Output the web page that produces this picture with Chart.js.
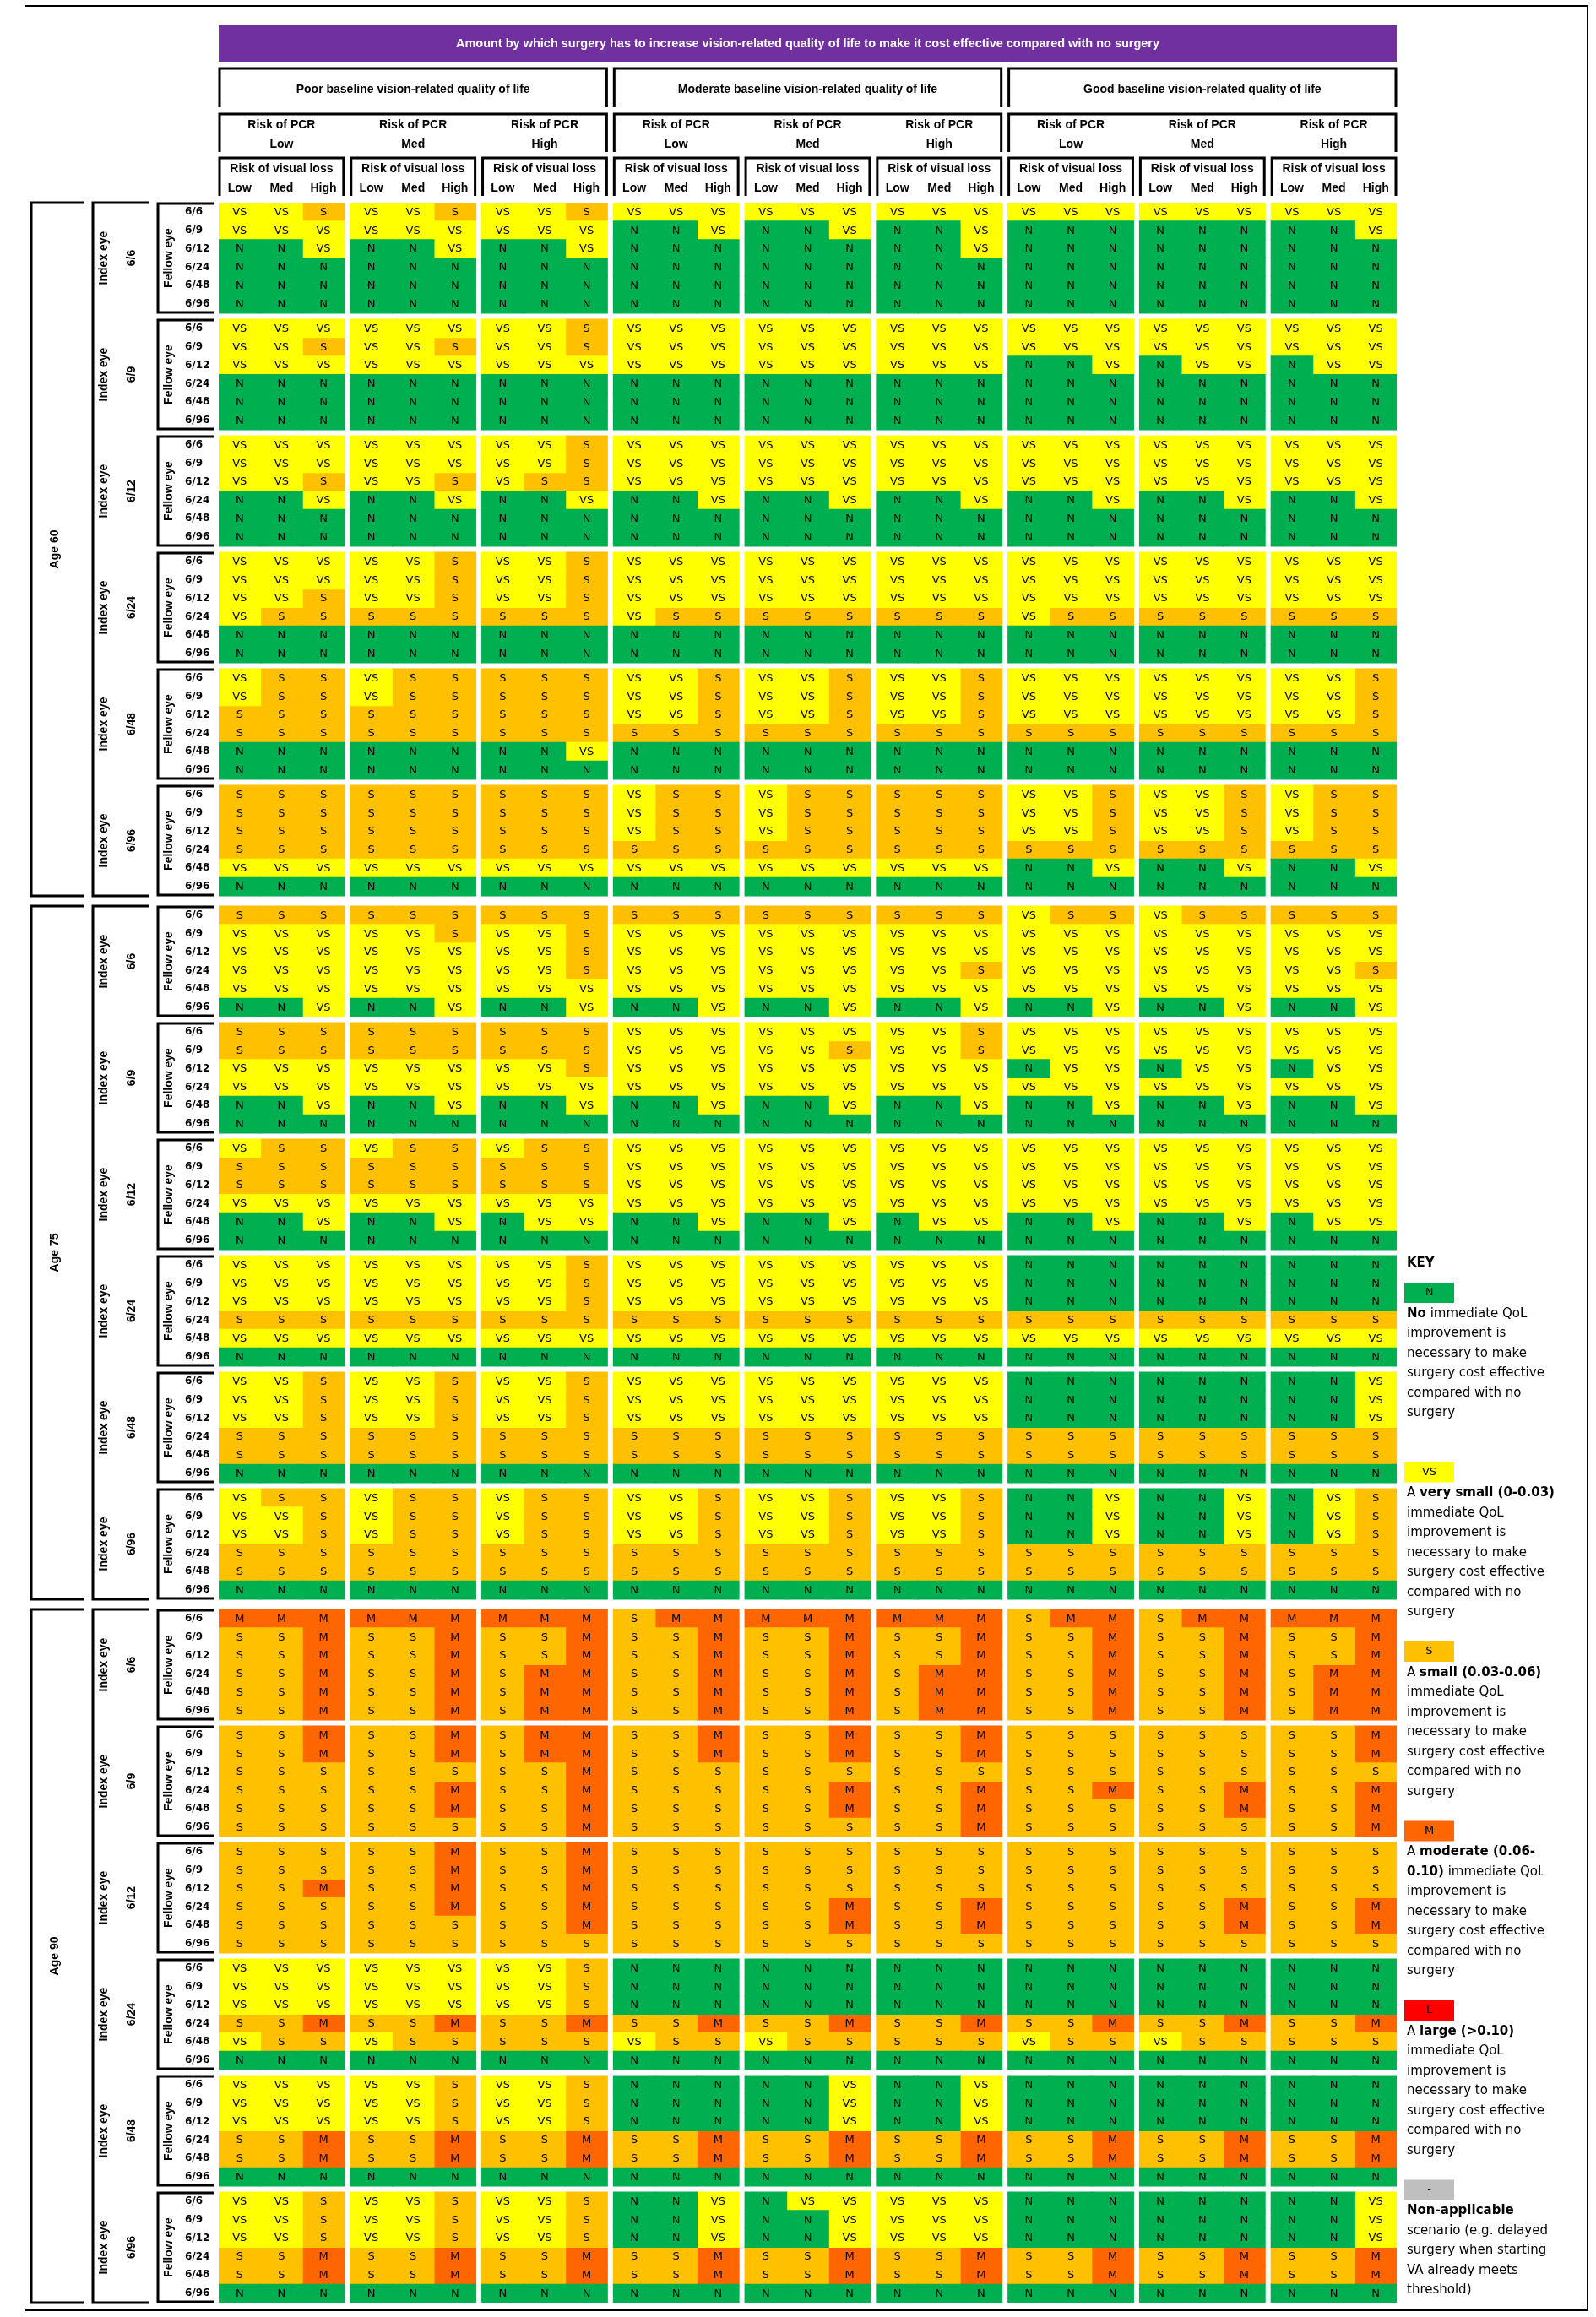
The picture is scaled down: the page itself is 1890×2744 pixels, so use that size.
<!DOCTYPE html>
<html>
<head>
<meta charset="utf-8">
<title>QoL gain needed for surgery to be cost effective</title>
<script src="https://cdn.jsdelivr.net/npm/chart.js@4.4.1/dist/chart.umd.min.js"></script>
<style>
html, body { margin: 0; padding: 0; background: #fff; }
#chart { display: block; }
</style>
</head>
<body>
<canvas id="chart" width="1890" height="2744"></canvas>
<script>
// Labels
const ageGroups = ['Age 60', 'Age 75', 'Age 90'];
const indexEye = ['6/6', '6/9', '6/12', '6/24', '6/48', '6/96'];
const fellowEye = ['6/6', '6/9', '6/12', '6/24', '6/48', '6/96'];
const baselines = ['Poor', 'Moderate', 'Good'];
const pcrRisk = ['Low', 'Med', 'High'];
const visualLoss = ['Low', 'Med', 'High'];

// Cell codes: N = none, V = very small, S = small, M = moderate
// one string per fellow-eye row; 9 chars = PCR Low/Med/High x visual loss Low/Med/High
// 6 rows per index-eye block, blocks 6/6 .. 6/96
const age60Poor = [
    'VVSVVSVVS', 'VVVVVVVVV', 'NNVNNVNNV', 'NNNNNNNNN', 'NNNNNNNNN', 'NNNNNNNNN',
    'VVVVVVVVS', 'VVSVVSVVS', 'VVVVVVVVV', 'NNNNNNNNN', 'NNNNNNNNN', 'NNNNNNNNN',
    'VVVVVVVVS', 'VVVVVVVVS', 'VVSVVSVSS', 'NNVNNVNNV', 'NNNNNNNNN', 'NNNNNNNNN',
    'VVVVVSVVS', 'VVVVVSVVS', 'VVSVVSVVS', 'VSSSSSSSS', 'NNNNNNNNN', 'NNNNNNNNN',
    'VSSVSSSSS', 'VSSVSSSSS', 'SSSSSSSSS', 'SSSSSSSSS', 'NNNNNNNNV', 'NNNNNNNNN',
    'SSSSSSSSS', 'SSSSSSSSS', 'SSSSSSSSS', 'SSSSSSSSS', 'VVVVVVVVV', 'NNNNNNNNN'
];
const age60Moderate = [
    'VVVVVVVVV', 'NNVNNVNNV', 'NNNNNNNNV', 'NNNNNNNNN', 'NNNNNNNNN', 'NNNNNNNNN',
    'VVVVVVVVV', 'VVVVVVVVV', 'VVVVVVVVV', 'NNNNNNNNN', 'NNNNNNNNN', 'NNNNNNNNN',
    'VVVVVVVVV', 'VVVVVVVVV', 'VVVVVVVVV', 'NNVNNVNNV', 'NNNNNNNNN', 'NNNNNNNNN',
    'VVVVVVVVV', 'VVVVVVVVV', 'VVVVVVVVV', 'VSSSSSSSS', 'NNNNNNNNN', 'NNNNNNNNN',
    'VVSVVSVVS', 'VVSVVSVVS', 'VVSVVSVVS', 'SSSSSSSSS', 'NNNNNNNNN', 'NNNNNNNNN',
    'VSSVSSSSS', 'VSSVSSSSS', 'VSSVSSSSS', 'SSSSSSSSS', 'VVVVVVVVV', 'NNNNNNNNN'
];
const age60Good = [
    'VVVVVVVVV', 'NNNNNNNNV', 'NNNNNNNNN', 'NNNNNNNNN', 'NNNNNNNNN', 'NNNNNNNNN',
    'VVVVVVVVV', 'VVVVVVVVV', 'NNVNVVNVV', 'NNNNNNNNN', 'NNNNNNNNN', 'NNNNNNNNN',
    'VVVVVVVVV', 'VVVVVVVVV', 'VVVVVVVVV', 'NNVNNVNNV', 'NNNNNNNNN', 'NNNNNNNNN',
    'VVVVVVVVV', 'VVVVVVVVV', 'VVVVVVVVV', 'VSSSSSSSS', 'NNNNNNNNN', 'NNNNNNNNN',
    'VVVVVVVVS', 'VVVVVVVVS', 'VVVVVVVVS', 'SSSSSSSSS', 'NNNNNNNNN', 'NNNNNNNNN',
    'VVSVVSVSS', 'VVSVVSVSS', 'VVSVVSVSS', 'SSSSSSSSS', 'NNVNNVNNV', 'NNNNNNNNN'
];
const age75Poor = [
    'SSSSSSSSS', 'VVVVVSVVS', 'VVVVVVVVS', 'VVVVVVVVS', 'VVVVVVVVV', 'NNVNNVNNV',
    'SSSSSSSSS', 'SSSSSSSSS', 'VVVVVVVVS', 'VVVVVVVVV', 'NNVNNVNNV', 'NNNNNNNNN',
    'VSSVSSVSS', 'SSSSSSSSS', 'SSSSSSSSS', 'VVVVVVVVV', 'NNVNNVNVV', 'NNNNNNNNN',
    'VVVVVVVVS', 'VVVVVVVVS', 'VVVVVVVVS', 'SSSSSSSSS', 'VVVVVVVVV', 'NNNNNNNNN',
    'VVSVVSVVS', 'VVSVVSVVS', 'VVSVVSVVS', 'SSSSSSSSS', 'SSSSSSSSS', 'NNNNNNNNN',
    'VSSVSSVSS', 'VVSVSSVSS', 'VVSVSSVSS', 'SSSSSSSSS', 'SSSSSSSSS', 'NNNNNNNNN'
];
const age75Moderate = [
    'SSSSSSSSS', 'VVVVVVVVV', 'VVVVVVVVV', 'VVVVVVVVS', 'VVVVVVVVV', 'NNVNNVNNV',
    'VVVVVVVVS', 'VVVVVSVVS', 'VVVVVVVVV', 'VVVVVVVVV', 'NNVNNVNNV', 'NNNNNNNNN',
    'VVVVVVVVV', 'VVVVVVVVV', 'VVVVVVVVV', 'VVVVVVVVV', 'NNVNNVNVV', 'NNNNNNNNN',
    'VVVVVVVVV', 'VVVVVVVVV', 'VVVVVVVVV', 'SSSSSSSSS', 'VVVVVVVVV', 'NNNNNNNNN',
    'VVVVVVVVV', 'VVVVVVVVV', 'VVVVVVVVV', 'SSSSSSSSS', 'SSSSSSSSS', 'NNNNNNNNN',
    'VVSVVSVVS', 'VVSVVSVVS', 'VVSVVSVVS', 'SSSSSSSSS', 'SSSSSSSSS', 'NNNNNNNNN'
];
const age75Good = [
    'VSSVSSSSS', 'VVVVVVVVV', 'VVVVVVVVV', 'VVVVVVVVS', 'VVVVVVVVV', 'NNVNNVNNV',
    'VVVVVVVVV', 'VVVVVVVVV', 'NVVNVVNVV', 'VVVVVVVVV', 'NNVNNVNNV', 'NNNNNNNNN',
    'VVVVVVVVV', 'VVVVVVVVV', 'VVVVVVVVV', 'VVVVVVVVV', 'NNVNNVNVV', 'NNNNNNNNN',
    'NNNNNNNNN', 'NNNNNNNNN', 'NNNNNNNNN', 'SSSSSSSSS', 'VVVVVVVVV', 'NNNNNNNNN',
    'NNNNNNNNV', 'NNNNNNNNV', 'NNNNNNNNV', 'SSSSSSSSS', 'SSSSSSSSS', 'NNNNNNNNN',
    'NNVNNVNVS', 'NNVNNVNVS', 'NNVNNVNVS', 'SSSSSSSSS', 'SSSSSSSSS', 'NNNNNNNNN'
];
const age90Poor = [
    'MMMMMMMMM', 'SSMSSMSSM', 'SSMSSMSSM', 'SSMSSMSMM', 'SSMSSMSMM', 'SSMSSMSMM',
    'SSMSSMSMM', 'SSMSSMSMM', 'SSSSSSSSM', 'SSSSSMSSM', 'SSSSSMSSM', 'SSSSSSSSM',
    'SSSSSMSSM', 'SSSSSMSSM', 'SSMSSMSSM', 'SSSSSMSSM', 'SSSSSSSSM', 'SSSSSSSSS',
    'VVVVVVVVS', 'VVVVVVVVS', 'VVVVVVVVS', 'SSMSSMSSM', 'VSSVSSSSS', 'NNNNNNNNN',
    'VVVVVSVVS', 'VVVVVSVVS', 'VVVVVSVVS', 'SSMSSMSSM', 'SSMSSMSSM', 'NNNNNNNNN',
    'VVSVVSVVS', 'VVSVVSVVS', 'VVSVVSVVS', 'SSMSSMSSM', 'SSMSSMSSM', 'NNNNNNNNN'
];
const age90Moderate = [
    'SMMMMMMMM', 'SSMSSMSSM', 'SSMSSMSSM', 'SSMSSMSMM', 'SSMSSMSMM', 'SSMSSMSMM',
    'SSMSSMSSM', 'SSMSSMSSM', 'SSSSSSSSS', 'SSSSSMSSM', 'SSSSSMSSM', 'SSSSSSSSM',
    'SSSSSSSSS', 'SSSSSSSSS', 'SSSSSSSSS', 'SSSSSMSSM', 'SSSSSMSSM', 'SSSSSSSSS',
    'NNNNNNNNN', 'NNNNNNNNN', 'NNNNNNNNN', 'SSMSSMSSM', 'VSSVSSSSS', 'NNNNNNNNN',
    'NNNNNVNNV', 'NNNNNVNNV', 'NNNNNVNNV', 'SSMSSMSSM', 'SSMSSMSSM', 'NNNNNNNNN',
    'NNVNVVVVV', 'NNVNNVVVV', 'NNVNNVVVV', 'SSMSSMSSM', 'SSMSSMSSM', 'NNNNNNNNN'
];
const age90Good = [
    'SMMSMMMMM', 'SSMSSMSSM', 'SSMSSMSSM', 'SSMSSMSMM', 'SSMSSMSMM', 'SSMSSMSMM',
    'SSSSSSSSM', 'SSSSSSSSM', 'SSSSSSSSS', 'SSMSSMSSM', 'SSSSSMSSM', 'SSSSSSSSM',
    'SSSSSSSSS', 'SSSSSSSSS', 'SSSSSSSSS', 'SSSSSMSSM', 'SSSSSMSSM', 'SSSSSSSSS',
    'NNNNNNNNN', 'NNNNNNNNN', 'NNNNNNNNN', 'SSMSSMSSM', 'VSSVSSSSS', 'NNNNNNNNN',
    'NNNNNNNNN', 'NNNNNNNNN', 'NNNNNNNNN', 'SSMSSMSSM', 'SSMSSMSSM', 'NNNNNNNNN',
    'NNNNNNNNV', 'NNNNNNNNV', 'NNNNNNNNV', 'SSMSSMSSM', 'SSMSSMSSM', 'NNNNNNNNN'
];

const gridData = [
    [age60Poor, age60Moderate, age60Good],
    [age75Poor, age75Moderate, age75Good],
    [age90Poor, age90Moderate, age90Good]
];

const categories = ['N', 'VS', 'S', 'M'];
const codeToCategory = { N: 'N', V: 'VS', S: 'S', M: 'M' };
const catColors = { N: '#00B050', VS: '#FFFF00', S: '#FFC000', M: '#FF6600', L: '#FF0000', '-': '#BFBFBF' };

// Layout in axis units (1 unit = one row / one column)
const BLOCK_GAP = 0.32;
const AGE_GAP = 0.55;
const GROUP_GAP = 0.14;
const AGE_SPAN = 36 + 5 * BLOCK_GAP;
const Y_MAX = 3 * AGE_SPAN + 2 * AGE_GAP;
const X_MAX = 27 + 8 * GROUP_GAP;

function rowPos(a, b, r) {
    return a * (AGE_SPAN + AGE_GAP) + b * (6 + BLOCK_GAP) + r + 0.5;
}
function colStart(g, c) {
    return g * (3 + GROUP_GAP) + c;
}

// Build the bar data
const cellData = { N: [], VS: [], S: [], M: [] };
const rowTicks = [];
gridData.forEach((ageSets, a) => {
    for (let i = 0; i < 36; i++) rowTicks.push(rowPos(a, Math.floor(i / 6), i % 6));
    ageSets.forEach((rows, bl) => {
        rows.forEach((row, i) => {
            const b = Math.floor(i / 6), r = i % 6;
            row.split('').forEach((ch, k) => {
                const x0 = colStart(bl * 3 + Math.floor(k / 3), k % 3);
                cellData[codeToCategory[ch]].push({ x: [x0, x0 + 1], y: rowPos(a, b, r) });
            });
        });
    });
});
const colTicks = [];
for (let g = 0; g < 9; g++) for (let c = 0; c < 3; c++) colTicks.push(colStart(g, c) + 0.5);

const HEAD_FONT = "'Liberation Sans', Arial, sans-serif";
const KEY_FONT = "'DejaVu Sans', Verdana, sans-serif";

// Legend text
const legendKey = [
    { code: 'N', lines: [[['No', true], [' immediate QoL', false]], 'improvement is', 'necessary to make', 'surgery cost effective', 'compared with no', 'surgery', ''] },
    { code: 'VS', lines: [[['A ', false], ['very small (0-0.03)', true]], 'immediate QoL', 'improvement is', 'necessary to make', 'surgery cost effective', 'compared with no', 'surgery'] },
    { code: 'S', lines: [[['A ', false], ['small (0.03-0.06)', true]], 'immediate QoL', 'improvement is', 'necessary to make', 'surgery cost effective', 'compared with no', 'surgery'] },
    { code: 'M', lines: [[['A ', false], ['moderate (0.06-', true]], [['0.10)', true], [' immediate QoL', false]], 'improvement is', 'necessary to make', 'surgery cost effective', 'compared with no', 'surgery'] },
    { code: 'L', lines: [[['A ', false], ['large (>0.10)', true]], 'immediate QoL', 'improvement is', 'necessary to make', 'surgery cost effective', 'compared with no', 'surgery'] },
    { code: '-', lines: [[['Non-applicable', true]], 'scenario (e.g. delayed', 'surgery when starting', 'VA already meets', 'threshold)'] }
];

function vText(ctx, str, x, y, font) {
    ctx.save();
    ctx.translate(x, y);
    ctx.rotate(-Math.PI / 2);
    ctx.font = font;
    ctx.textAlign = 'center';
    ctx.textBaseline = 'middle';
    ctx.fillText(str, 0, 0);
    ctx.restore();
}

function bracketTop(ctx, x0, y0, x1, y1) {
    ctx.beginPath();
    ctx.moveTo(x0, y1);
    ctx.lineTo(x0, y0);
    ctx.lineTo(x1, y0);
    ctx.lineTo(x1, y1);
    ctx.stroke();
}

function bracketLeft(ctx, x0, y0, x1, y1) {
    ctx.beginPath();
    ctx.moveTo(x1, y0);
    ctx.lineTo(x0, y0);
    ctx.lineTo(x0, y1);
    ctx.lineTo(x1, y1);
    ctx.stroke();
}

const decorPlugin = {
    id: 'decor',
    beforeDraw(chart) {
        const ctx = chart.ctx;
        ctx.save();
        ctx.fillStyle = '#fff';
        ctx.fillRect(0, 0, chart.width, chart.height);
        ctx.restore();
    },
    afterDatasetsDraw(chart) {
        const ctx = chart.ctx;
        ctx.save();
        ctx.fillStyle = '#000';
        ctx.font = '13px ' + KEY_FONT;
        ctx.textAlign = 'center';
        ctx.textBaseline = 'middle';
        chart.data.datasets.forEach((ds, di) => {
            chart.getDatasetMeta(di).data.forEach(el => {
                ctx.fillText(ds.label, (el.x + el.base) / 2, el.y + 0.5);
            });
        });
        ctx.restore();
    },
    afterDraw(chart) {
        const ctx = chart.ctx;
        const xs = chart.scales.x, ys = chart.scales.y;
        const px = v => xs.getPixelForValue(v);
        const py = v => ys.getPixelForValue(v);
        ctx.save();
        ctx.strokeStyle = '#000';
        ctx.fillStyle = '#000';

        // outer frame
        ctx.lineWidth = 2;
        ctx.beginPath();
        ctx.moveTo(30, 7);
        ctx.lineTo(1880, 7);
        ctx.lineTo(1880, 2736);
        ctx.lineTo(30, 2736);
        ctx.stroke();

        // title banner
        const left = px(0), right = px(X_MAX);
        ctx.fillStyle = '#7030A0';
        ctx.fillRect(left, 30, right - left, 43);
        ctx.fillStyle = '#fff';
        ctx.font = 'bold 14.5px ' + HEAD_FONT;
        ctx.textAlign = 'center';
        ctx.textBaseline = 'middle';
        ctx.fillText('Amount by which surgery has to increase vision-related quality of life to make it cost effective compared with no surgery', (left + right) / 2, 52);

        // column headers
        ctx.fillStyle = '#000';
        ctx.lineWidth = 3;
        ctx.font = 'bold 14px ' + HEAD_FONT;
        baselines.forEach((bName, bi) => {
            const x0 = px(colStart(bi * 3, 0)), x1 = px(colStart(bi * 3 + 2, 2) + 1);
            bracketTop(ctx, x0 + 1, 81, x1 - 1, 127);
            ctx.fillText(bName + ' baseline vision-related quality of life', (x0 + x1) / 2, 106);
            bracketTop(ctx, x0 + 1, 135, x1 - 1, 180);
            pcrRisk.forEach((p, pi) => {
                const g = bi * 3 + pi;
                const gx0 = px(colStart(g, 0)), gx1 = px(colStart(g, 2) + 1);
                const cx = (gx0 + gx1) / 2;
                ctx.fillText('Risk of PCR', cx, 148);
                ctx.fillText(p, cx, 171);
                bracketTop(ctx, gx0 + 1, 187, gx1 - 1, 232);
                ctx.fillText('Risk of visual loss', cx, 200);
            });
        });

        // row headers
        ageGroups.forEach((ag, a) => {
            const yTop = py(rowPos(a, 0, 0) - 0.5), yBot = py(rowPos(a, 5, 5) + 0.5);
            ctx.lineWidth = 3;
            bracketLeft(ctx, 37, yTop, 99, yBot);
            bracketLeft(ctx, 110, yTop, 176, yBot);
            vText(ctx, ag, 65, (yTop + yBot) / 2, 'bold 14px ' + HEAD_FONT);
            indexEye.forEach((ie, b) => {
                const bt = py(rowPos(a, b, 0) - 0.5), bb = py(rowPos(a, b, 5) + 0.5);
                const mid = (bt + bb) / 2;
                vText(ctx, 'Index eye', 123, mid, 'bold 14px ' + HEAD_FONT);
                vText(ctx, ie, 156, mid, 'bold 14px ' + HEAD_FONT);
                bracketLeft(ctx, 187, bt + 1, 254, bb - 1);
                vText(ctx, 'Fellow eye', 200, mid, 'bold 14px ' + HEAD_FONT);
            });
        });

        // key
        const kx = 1666;
        ctx.textAlign = 'left';
        ctx.textBaseline = 'middle';
        ctx.font = 'bold 15px ' + KEY_FONT;
        ctx.fillText('KEY', kx, 1496);
        let y = 1519;
        legendKey.forEach(item => {
            ctx.fillStyle = catColors[item.code];
            ctx.fillRect(1663, y, 59, 24);
            ctx.fillStyle = '#000';
            ctx.textAlign = 'center';
            ctx.font = '13px ' + KEY_FONT;
            ctx.fillText(item.code, 1692.5, y + 12);
            ctx.textAlign = 'left';
            let ly = y + 37;
            item.lines.forEach(line => {
                const parts = typeof line === 'string' ? [[line, false]] : line;
                let lx = kx;
                parts.forEach(([t, bold]) => {
                    ctx.font = (bold ? 'bold ' : '') + '15px ' + KEY_FONT;
                    ctx.fillText(t, lx, ly);
                    lx += ctx.measureText(t).width;
                });
                ly += 23.5;
            });
            y = ly - 23.5 + 34.5;
        });
        ctx.restore();
    }
};

const datasets = categories.map(cat => ({
    label: cat,
    data: cellData[cat],
    backgroundColor: catColors[cat],
    borderWidth: 0,
    barPercentage: 1,
    categoryPercentage: 1,
    grouped: false,
    inflateAmount: 0.5
}));

new Chart(document.getElementById('chart'), {
    type: 'bar',
    data: { datasets },
    options: {
        indexAxis: 'y',
        responsive: false,
        animation: false,
        devicePixelRatio: 1,
        layout: { padding: { left: 219, right: 236, top: 210, bottom: 17 } },
        plugins: {
            legend: { display: false },
            tooltip: { enabled: false }
        },
        scales: {
            x: {
                type: 'linear',
                position: 'top',
                min: 0,
                max: X_MAX,
                offset: false,
                afterBuildTicks: sc => { sc.ticks = colTicks.map(v => ({ value: v })); },
                afterFit: sc => { sc.height = 30; },
                grid: { display: false, drawTicks: false, offset: false },
                border: { display: false },
                ticks: {
                    autoSkip: false,
                    maxRotation: 0,
                    padding: 8,
                    color: '#000',
                    font: { family: HEAD_FONT, size: 14, weight: 'bold' },
                    callback: (v, i) => visualLoss[i % 3]
                }
            },
            y: {
                type: 'linear',
                reverse: true,
                min: 0,
                max: Y_MAX,
                offset: false,
                afterBuildTicks: sc => { sc.ticks = rowTicks.map(v => ({ value: v })); },
                afterFit: sc => { sc.width = 40; },
                grid: { display: false, drawTicks: false, offset: false },
                border: { display: false },
                ticks: {
                    autoSkip: false,
                    crossAlign: 'far',
                    padding: 0,
                    color: '#000',
                    font: { family: KEY_FONT, size: 12, weight: 'bold' },
                    callback: (v, i) => fellowEye[i % 6]
                }
            }
        }
    },
    plugins: [decorPlugin]
});
</script>
</body>
</html>
